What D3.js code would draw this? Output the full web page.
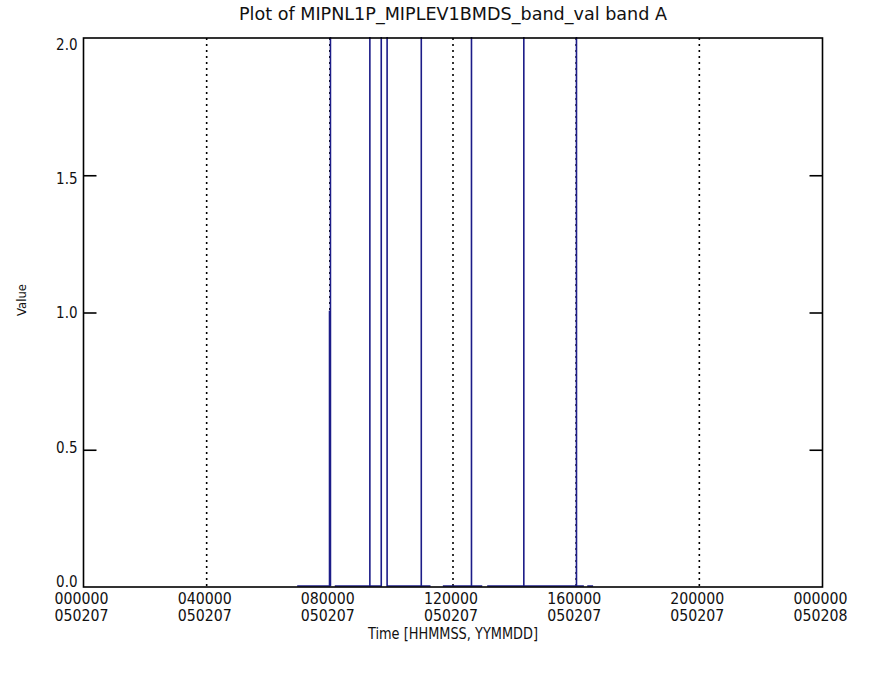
<!DOCTYPE html>
<html>
<head>
<meta charset="utf-8">
<script src="https://cdn.jsdelivr.net/npm/d3@7"></script>
<style>
  html, body { margin: 0; padding: 0; background: #fff; }
  svg { display: block; }
  text { font-family: "DejaVu Sans Condensed", "Liberation Sans Narrow", "DejaVu Sans", sans-serif; fill: #111; }
</style>
</head>
<body>
<svg id="chart" width="873" height="675"></svg>
<script>
// ---- data (time in hours since 000000 050207; null = gap) ----
const timesHr = [
  6.94, 7.99, 7.99, 8.02, 8.02, 8.02, null,
  8.16, 9.30, 9.30, 9.30, 9.67, 9.67, 9.67, null,
  9.86, 9.86, 10.97, 10.97, 10.97, 11.27, null,
  11.67, 12.60, 12.60, 12.60, 12.95, null,
  13.11, 14.30, 14.30, 14.30, 16.01, 16.01, 16.01, 16.25, null,
  16.36, 16.55
];
const values = [
  0, 0, 1, 1, 2, 0, null,
  0, 0, 2, 0, 0, 2, 0, null,
  2, 0, 0, 2, 0, 0, null,
  0, 0, 2, 0, 0, null,
  0, 0, 2, 0, 0, 2, 0, 0, null,
  0, 0
];
const xTickHours = [0, 4, 8, 12, 16, 20, 24];
const xTickTimes = ["000000", "040000", "080000", "120000", "160000", "200000", "000000"];
const xTickDates = ["050207", "050207", "050207", "050207", "050207", "050207", "050208"];
const yTicks = [0.0, 0.5, 1.0, 1.5, 2.0];
const titleText = "Plot of MIPNL1P_MIPLEV1BMDS_band_val band A";
const xTitle = "Time [HHMMSS, YYMMDD]";
const yTitle = "Value";

(function () {
  // ---- layout ----
  const pL = 83.5, pR = 822.5, pT = 38, pB = 587;
  const svg = d3.select("#chart");
  const x = d3.scaleLinear().domain([0, 24]).range([pL, pR]);
  const y = d3.scaleLinear().domain([0, 2]).range([pB, pT]);
  // label placement (labels sit slightly inside the end ticks, as in the reference)
  const yLab = d3.scaleLinear().domain([0, 2]).range([pB - 6, pT + 6]);

  // dotted grid at interior x ticks
  svg.append("g").selectAll("line")
    .data(xTickHours.filter(h => h > 0 && h < 24))
    .join("line")
    .attr("x1", d => x(d)).attr("x2", d => x(d))
    .attr("y1", pT).attr("y2", pB)
    .attr("stroke", "#000").attr("stroke-width", 1.6)
    .attr("stroke-dasharray", "2,4");

  // data line
  const pts = timesHr.map((t, i) => ({t, v: values[i]}));
  const line = d3.line()
    .defined(d => d.t !== null && d.v !== null)
    .x(d => x(d.t)).y(d => y(d.v) - 1);
  svg.append("path")
    .attr("d", line(pts))
    .attr("fill", "none")
    .attr("stroke", "#1c1c88")
    .attr("stroke-width", 1.6);

  // frame
  svg.append("rect")
    .attr("x", pL).attr("y", pT)
    .attr("width", pR - pL).attr("height", pB - pT)
    .attr("fill", "none").attr("stroke", "#000").attr("stroke-width", 1.6);

  // y axis (left, inward ticks) and right mirror
  const yAxisL = d3.axisLeft(y).tickValues(yTicks).tickFormat(d3.format(".1f")).tickSizeInner(-13).tickSizeOuter(0);
  const gL = svg.append("g").attr("transform", `translate(${pL},0)`).call(yAxisL);
  gL.select(".domain").remove();
  gL.selectAll(".tick line").attr("stroke", "#000").attr("stroke-width", 1.6)
    .filter(d => d === 0 || d === 2).remove();
  gL.selectAll(".tick text")
    .style("font-size", "15px").attr("dy", "0.36em").attr("x", -6)
    .attr("y", d => yLab(d) - y(d));

  const yAxisR = d3.axisRight(y).tickValues(yTicks).tickFormat("").tickSizeInner(-13).tickSizeOuter(0);
  const gR = svg.append("g").attr("transform", `translate(${pR},0)`).call(yAxisR);
  gR.select(".domain").remove();
  gR.selectAll(".tick line").attr("stroke", "#000").attr("stroke-width", 1.6)
    .filter(d => d === 0 || d === 2).remove();

  // x tick labels (two lines)
  const xl = svg.append("g");
  xl.selectAll("text.t1").data(xTickHours).join("text")
    .attr("class", "t1")
    .attr("x", d => x(d) - 2).attr("y", 604)
    .attr("text-anchor", "middle").style("font-size", "15px")
    .attr("textLength", 54).attr("lengthAdjust", "spacingAndGlyphs")
    .text((d, i) => xTickTimes[i]);
  xl.selectAll("text.t2").data(xTickHours).join("text")
    .attr("class", "t2")
    .attr("x", d => x(d) - 2).attr("y", 621)
    .attr("text-anchor", "middle").style("font-size", "15px")
    .attr("textLength", 54).attr("lengthAdjust", "spacingAndGlyphs")
    .text((d, i) => xTickDates[i]);

  // titles
  svg.append("text")
    .attr("x", (pL + pR) / 2).attr("y", 20)
    .attr("text-anchor", "middle").style("font-size", "17px")
    .attr("textLength", 428).attr("lengthAdjust", "spacingAndGlyphs")
    .text(titleText);
  svg.append("text")
    .attr("x", (pL + pR) / 2).attr("y", 639)
    .attr("text-anchor", "middle").style("font-size", "15px")
    .attr("textLength", 170).attr("lengthAdjust", "spacingAndGlyphs")
    .text(xTitle);
  svg.append("text")
    .attr("transform", "translate(26,300) rotate(-90)")
    .attr("text-anchor", "middle").style("font-size", "13px")
    .text(yTitle);
})();
</script>
</body>
</html>
